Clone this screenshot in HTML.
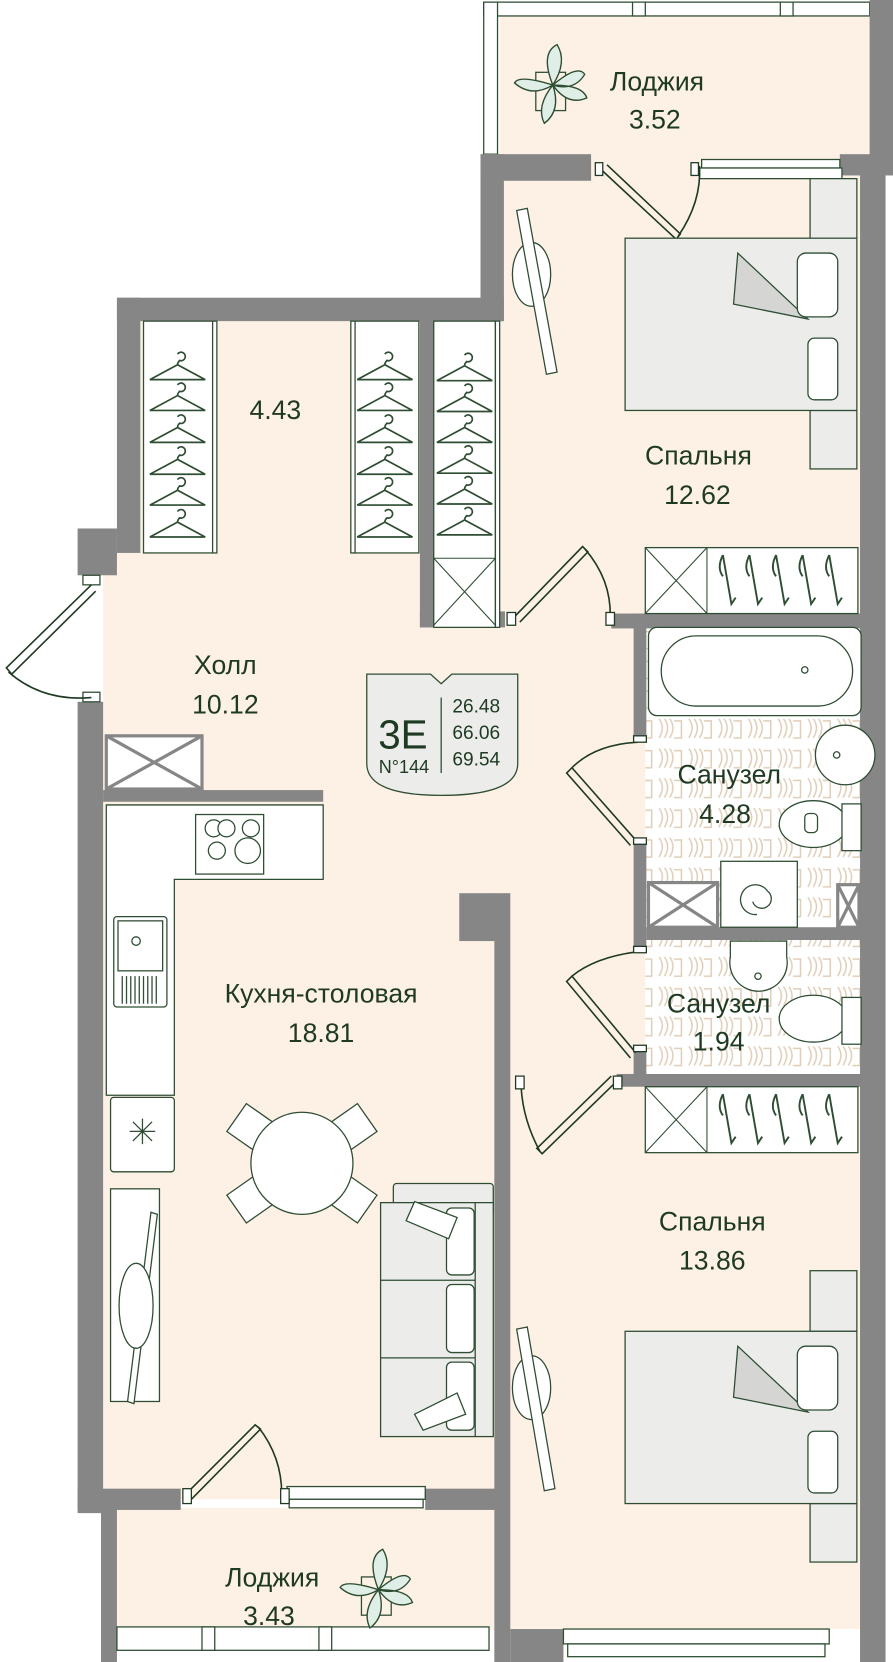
<!DOCTYPE html>
<html><head><meta charset="utf-8"><style>
html,body{margin:0;padding:0;background:#fff;width:893px;height:1662px;overflow:hidden}
svg{display:block}
text{font-family:"Liberation Sans",sans-serif;fill:#1e3a22}
</style></head><body>
<svg width="893" height="1662" viewBox="0 0 840 1563" preserveAspectRatio="none" xmlns="http://www.w3.org/2000/svg">
<defs>
<pattern id="tile" width="28" height="28" patternUnits="userSpaceOnUse">
<rect width="28" height="28" fill="#fff"/>
<path d="M4 4 q6 8 0 18 M9 4 q6 8 0 18 M14 4 q6 8 0 18 M18 6 h7 v16 h-7" fill="none" stroke="#e0cdb8" stroke-width="1.4"/>
</pattern>
<g id="hanger" fill="none" stroke="#2e4d33" stroke-width="1.6">
<path d="M0 -10 a4 4 0 1 1 2 6 q-2 2 -2 4"/>
<path d="M0 0 L-26 14 L26 14 Z"/>
</g>
<g id="hook" fill="none" stroke="#2e4d33" stroke-width="1.8">
<path d="M0 -24 L8 22 L12 16 M8 22 M0 -24 q-6 12 0 20"/>
</g>
<g id="plant">
<rect x="-16" y="-12" width="28" height="36" fill="none" stroke="#2e4d33" stroke-width="1.2"/>
<path d="M0 0 q-12 -30 4 -38 q10 16 -4 38 Z M0 0 q-32 -10 -36 -2 q16 14 36 2Z M0 0 q24 -20 30 -10 q-10 16 -30 10Z M0 0 q28 0 32 12 q-18 8 -32 -12Z M0 0 q-16 20 -8 36 q16 -12 8 -36Z" fill="#dfeee6" stroke="#2e4d33" stroke-width="1.3"/>
</g>
</defs>

<!-- floors -->
<g fill="#fdf0e4">
<rect x="470" y="14" width="348" height="160"/>
<rect x="130" y="300" width="345" height="290"/>
<rect x="97" y="520" width="510" height="890"/>
<rect x="470" y="165" width="340" height="420"/>
<rect x="478" y="1010" width="332" height="522"/>
<rect x="108" y="1418" width="360" height="115"/>
</g>
<rect x="607" y="590" width="203" height="420" fill="url(#tile)"/>

<!-- top loggia frame -->
<g fill="#fff" stroke="#2e4d33" stroke-width="1.2">
<rect x="455" y="2" width="363" height="13"/>
<rect x="455" y="2" width="13" height="155"/>
<rect x="595" y="2" width="12" height="13"/><rect x="734" y="2" width="12" height="13"/>
<rect x="455" y="145" width="13" height="12"/>
</g>

<!-- walls -->
<g fill="#868686">
<rect x="818" y="0" width="22" height="160"/>
<rect x="452" y="145" width="104" height="25"/>
<rect x="790" y="145" width="50" height="20"/>
<rect x="809" y="160" width="24" height="1403"/>
<rect x="452" y="145" width="22" height="157"/>
<rect x="110" y="280" width="364" height="22"/>
<rect x="110" y="280" width="22" height="240"/>
<rect x="73" y="497" width="37" height="44"/>
<rect x="73" y="660" width="24" height="763"/>
<rect x="395" y="300" width="15" height="290"/>
<rect x="395" y="575" width="80" height="15"/>
<rect x="575" y="577" width="235" height="14"/>
<rect x="596" y="577" width="12" height="118"/>
<rect x="596" y="790" width="12" height="103"/>
<rect x="596" y="985" width="12" height="35"/>
<rect x="608" y="872" width="202" height="12"/>
<rect x="580" y="1010" width="230" height="12"/>
<rect x="97" y="743" width="207" height="11"/>
<rect x="432" y="840" width="34" height="45"/>
<rect x="465" y="840" width="15" height="723"/>
<rect x="73" y="1400" width="97" height="20"/>
<rect x="400" y="1400" width="66" height="20"/>
<rect x="95" y="1418" width="15" height="145"/>
<rect x="480" y="1532" width="50" height="31"/>
</g>

<!-- windows / thin frames -->
<g fill="#fff" stroke="#2e4d33" stroke-width="1.2">
<rect x="660" y="150" width="130" height="8"/><rect x="658" y="158" width="134" height="10"/>
<rect x="270" y="1398" width="130" height="12"/><rect x="272" y="1410" width="126" height="8"/>
<rect x="110" y="1530" width="350" height="22"/>
<rect x="190" y="1530" width="12" height="22"/><rect x="300" y="1530" width="12" height="22"/>
<rect x="530" y="1532" width="250" height="14"/><rect x="534" y="1546" width="242" height="12"/>
<rect x="78" y="541" width="16" height="9"/><rect x="78" y="651" width="16" height="9"/>
</g>

<!-- doors -->
<g fill="none" stroke="#1e3a22" stroke-width="1.5">
<path d="M86 550 L6 628 L11 634 L90 556"/><path d="M8 632 Q40 660 86 656"/>
<path d="M566 160 L636 225 L640 220 L571 155"/><path d="M638 222 Q660 190 658 156"/>
<path d="M484 580 L548 514 L553 519 L489 585"/><path d="M550 516 Q575 545 574 580"/>
<path d="M598 790 L538 722 L533 727 L593 795"/><path d="M538 722 Q560 700 600 698"/>
<path d="M598 990 L538 918 L533 923 L593 995"/><path d="M538 918 Q560 900 600 895"/>
<path d="M580 1017 L510 1085 L505 1080 L575 1012"/><path d="M508 1083 Q490 1050 490 1015"/>
<path d="M175 1405 L240 1340 L245 1344 L180 1410"/><path d="M243 1342 Q265 1370 265 1405"/>
</g>
<g fill="#fff" stroke="#1e3a22" stroke-width="1.2">
<rect x="560" y="153" width="7" height="12"/><rect x="650" y="153" width="7" height="12"/>
<rect x="477" y="576" width="8" height="12"/><rect x="570" y="576" width="8" height="12"/>
<rect x="596" y="692" width="12" height="6"/><rect x="596" y="788" width="12" height="6"/>
<rect x="596" y="890" width="12" height="6"/><rect x="596" y="983" width="12" height="6"/>
<rect x="485" y="1012" width="8" height="12"/><rect x="577" y="1012" width="8" height="12"/>
<rect x="172" y="1400" width="8" height="14"/><rect x="264" y="1400" width="8" height="14"/>
</g>

<!-- wardrobes -->
<g fill="#fff" stroke="#2e4d33" stroke-width="1.2">
<rect x="135" y="302" width="65" height="218"/><rect x="200" y="302" width="4" height="218"/>
<rect x="332" y="302" width="62" height="218"/><rect x="330" y="302" width="4" height="218"/>
<rect x="408" y="302" width="58" height="288"/><rect x="466" y="302" width="4" height="288"/>
</g>
<path d="M408 525 L466 588 M466 525 L408 588 M408 525 H466" stroke="#2e4d33" stroke-width="1"/>
<g>
<use href="#hanger" x="167" y="343"/><use href="#hanger" x="167" y="372"/><use href="#hanger" x="167" y="402"/><use href="#hanger" x="167" y="432"/><use href="#hanger" x="167" y="461"/><use href="#hanger" x="167" y="491"/>
<use href="#hanger" x="362" y="343"/><use href="#hanger" x="362" y="372"/><use href="#hanger" x="362" y="402"/><use href="#hanger" x="362" y="432"/><use href="#hanger" x="362" y="461"/><use href="#hanger" x="362" y="491"/>
<use href="#hanger" x="437" y="344"/><use href="#hanger" x="437" y="373"/><use href="#hanger" x="437" y="402"/><use href="#hanger" x="437" y="431"/><use href="#hanger" x="437" y="460"/><use href="#hanger" x="437" y="489"/>
</g>
<!-- bedroom closets with hooks -->
<g fill="#fff" stroke="#2e4d33" stroke-width="1.2">
<rect x="607" y="515" width="200" height="62"/><rect x="607" y="1022" width="200" height="62"/>
</g>
<path d="M607 515 L665 577 M665 515 L607 577 M607 1022 L665 1084 M665 1022 L607 1084 M665 515 V577 M665 1022 V1084" stroke="#2e4d33" stroke-width="1"/>
<g><use href="#hook" x="680" y="546"/><use href="#hook" x="705" y="546"/><use href="#hook" x="730" y="546"/><use href="#hook" x="755" y="546"/><use href="#hook" x="780" y="546"/>
<use href="#hook" x="680" y="1053"/><use href="#hook" x="705" y="1053"/><use href="#hook" x="730" y="1053"/><use href="#hook" x="755" y="1053"/><use href="#hook" x="780" y="1053"/></g>
<!-- hall boxes -->
<g fill="#fff" stroke="#868686" stroke-width="3">
<rect x="100" y="692" width="90" height="50"/><path d="M100 692 L190 742 M190 692 L100 742"/>
<rect x="610" y="830" width="65" height="42"/><path d="M610 830 L675 872 M675 830 L610 872"/>
<rect x="788" y="832" width="20" height="40"/><path d="M788 832 L808 872 M808 832 L788 872"/>
</g>

<!-- beds -->
<g stroke="#2e4d33" stroke-width="1.2">
<rect x="762" y="168" width="44" height="57" fill="#ececea"/>
<rect x="762" y="386" width="44" height="55" fill="#ececea"/>
<rect x="588" y="224" width="218" height="162" fill="#ececea"/>
<path d="M694 238 L760 300 L690 286 Z" fill="#d5d5d3"/>
<rect x="750" y="238" width="38" height="60" rx="8" fill="#fff"/>
<rect x="760" y="318" width="28" height="58" rx="6" fill="#fff"/>
<rect x="762" y="1195" width="44" height="57" fill="#ececea"/>
<rect x="762" y="1414" width="44" height="55" fill="#ececea"/>
<rect x="588" y="1252" width="218" height="162" fill="#ececea"/>
<path d="M694 1266 L760 1328 L690 1314 Z" fill="#d5d5d3"/>
<rect x="750" y="1266" width="38" height="60" rx="8" fill="#fff"/>
<rect x="760" y="1346" width="28" height="58" rx="6" fill="#fff"/>
</g>
<!-- chairs in bedrooms -->
<g fill="#fff" stroke="#2e4d33" stroke-width="1.2">
<ellipse cx="500" cy="258" rx="18" ry="30"/><path d="M486 198 L496 196 L524 350 L514 352 Z"/>
<ellipse cx="500" cy="1305" rx="18" ry="30"/><path d="M486 1250 L496 1248 L522 1400 L512 1402 Z"/>
</g>

<!-- bathroom fixtures -->
<g fill="#fff" stroke="#2e4d33" stroke-width="1.2">
<rect x="610" y="590" width="200" height="83" rx="8"/>
<rect x="622" y="598" width="180" height="66" rx="33"/>
<circle cx="757" cy="630" r="3"/>
<ellipse cx="795" cy="710" rx="28" ry="28"/><circle cx="787" cy="710" r="3"/>
<ellipse cx="765" cy="775" rx="32" ry="22"/><rect x="757" y="765" width="12" height="18" rx="4"/><rect x="792" y="756" width="18" height="44"/>
<rect x="678" y="810" width="72" height="62"/><path d="M712 860 a14 14 0 1 1 10 -22 a9 9 0 1 1 -14 10" fill="none"/>
<path d="M687 885 h53 v15 a27 27 0 1 1 -53 0 Z"/><circle cx="713" cy="918" r="3"/>
<ellipse cx="765" cy="958" rx="32" ry="22"/><rect x="792" y="938" width="18" height="44"/>
</g>

<!-- kitchen -->
<g fill="#fff" stroke="#2e4d33" stroke-width="1.2">
<path d="M100 757 H304 V827 H164 V1030 H100 Z"/>
<rect x="184" y="766" width="64" height="56"/>
<circle cx="201" cy="779" r="8"/><circle cx="213" cy="779" r="8"/><circle cx="236" cy="779" r="8"/><circle cx="204" cy="800" r="8"/><circle cx="233" cy="800" r="12"/>
<rect x="107" y="862" width="50" height="85" rx="3"/><rect x="111" y="866" width="42" height="47"/><circle cx="128" cy="885" r="4"/>
<path d="M115 918 v26 M119 918 v26 M123 918 v26 M127 918 v26 M131 918 v26 M135 918 v26 M139 918 v26 M143 918 v26 M147 918 v26"/>
<rect x="104" y="1032" width="60" height="70" rx="3"/>
<path d="M134 1052 v24 M122 1064 h24 M125 1055 l18 18 M143 1055 l-18 18"/>
<rect x="104" y="1118" width="46" height="200"/>
<path d="M120 1318 L142 1140 L148 1142 L126 1320 Z"/><ellipse cx="128" cy="1228" rx="16" ry="40"/>
<g transform="translate(284 1094)">
<rect x="-75" y="-16" width="46" height="32" transform="rotate(-35)"/>
<rect x="29" y="-16" width="46" height="32" transform="rotate(35)"/>
<rect x="-75" y="-16" width="46" height="32" transform="rotate(35)"/>
<rect x="29" y="-16" width="46" height="32" transform="rotate(-35)"/>
<circle r="48"/>
</g>
<rect x="370" y="1113" width="94" height="30" rx="3" fill="#ececea"/>
<rect x="358" y="1131" width="106" height="220" fill="#ececea"/>
<path d="M358 1204 H447 M358 1277 H447 M447 1131 V1351"/>
<rect x="420" y="1136" width="26" height="63" rx="5"/><rect x="420" y="1208" width="26" height="64" rx="5"/><rect x="420" y="1281" width="26" height="64" rx="5"/>
<path d="M390 1130 L430 1145 L422 1165 L382 1148 Z"/><path d="M390 1330 L430 1310 L438 1330 L398 1345 Z"/>
</g>

<!-- plants -->
<use href="#plant" x="520" y="80"/>
<use href="#plant" x="356" y="1495"/>

<!-- badge -->
<path d="M345 634 H405 L415 643 L425 634 H487 V718 Q487 748 415 748 Q345 748 345 718 Z" fill="#ececea" stroke="#2e4d33" stroke-width="1.2"/>
<line x1="415" y1="656" x2="415" y2="727" stroke="#2e4d33" stroke-width="1.2"/>
<text x="379" y="704" font-size="38" text-anchor="middle">3E</text>
<text x="380" y="727" font-size="17" text-anchor="middle">N°144</text>
<text x="448" y="670" font-size="18" text-anchor="middle">26.48</text>
<text x="448" y="695" font-size="18" text-anchor="middle">66.06</text>
<text x="448" y="720" font-size="18" text-anchor="middle">69.54</text>

<!-- labels -->
<g font-size="25" text-anchor="middle">
<text x="618" y="85">Лоджия</text><text x="616" y="121">3.52</text>
<text x="657" y="437">Спальня</text><text x="656" y="474">12.62</text>
<text x="259" y="394">4.43</text>
<text x="212" y="634">Холл</text><text x="212" y="671">10.12</text>
<text x="686" y="737">Санузел</text><text x="682" y="774">4.28</text>
<text x="676" y="952">Санузел</text><text x="676" y="988">1.94</text>
<text x="302" y="943">Кухня-столовая</text><text x="302" y="980">18.81</text>
<text x="670" y="1157">Спальня</text><text x="670" y="1194">13.86</text>
<text x="256" y="1492">Лоджия</text><text x="253" y="1528">3.43</text>
</g>
</svg>
</body></html>
